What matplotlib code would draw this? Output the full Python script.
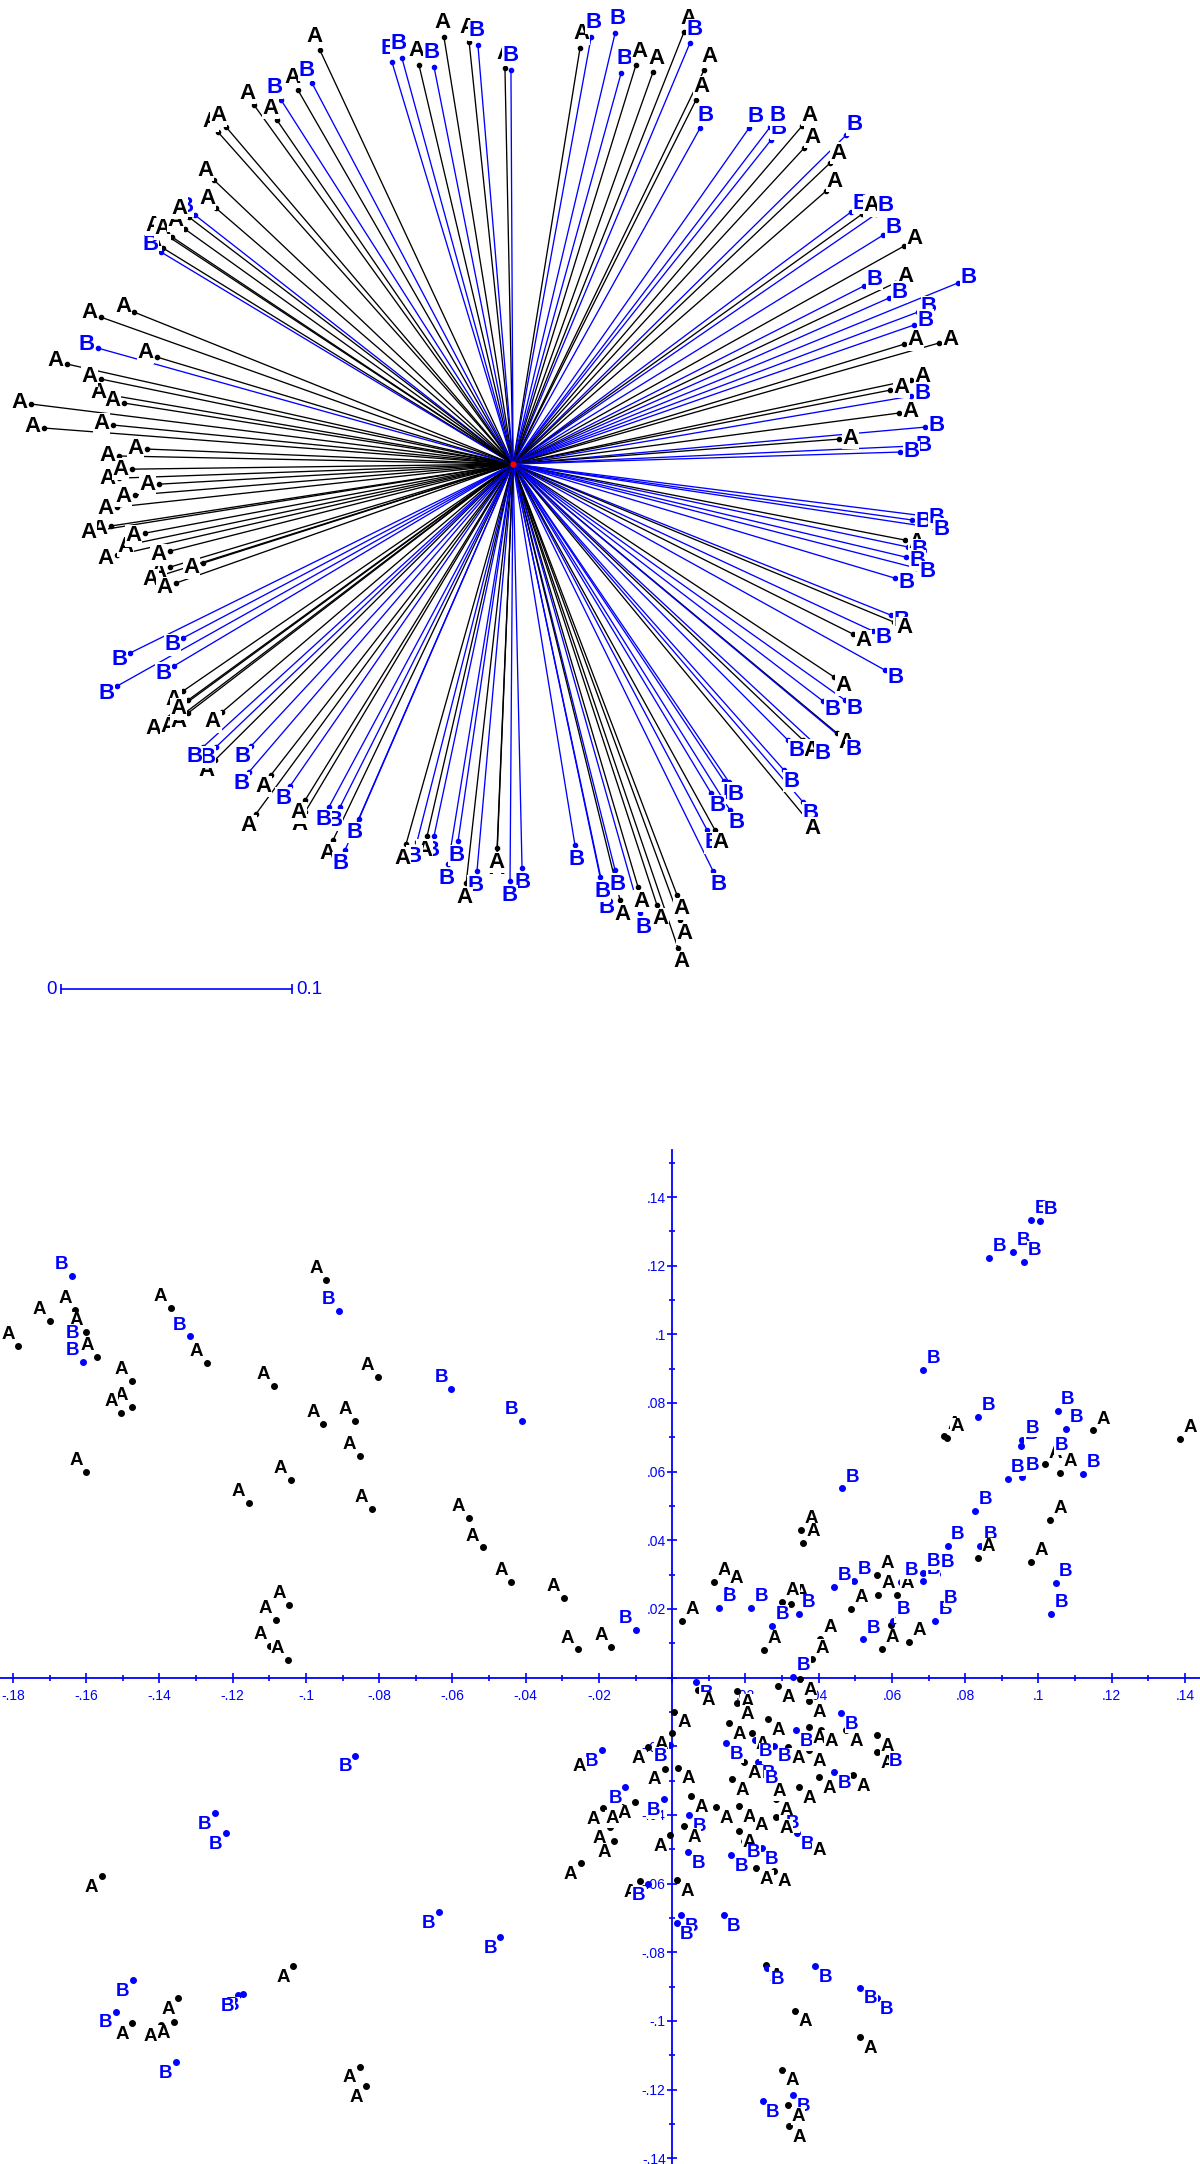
import numpy as np
import matplotlib
matplotlib.use("Agg")
import matplotlib.pyplot as plt
from matplotlib.ticker import MultipleLocator, FuncFormatter

# ---- tree: leaf positions (tree units, centre = 0,0) and group labels ----
tree_x = [-0.0836, -0.0524, -0.0481, -0.0407, -0.0342, -0.0299, -0.0190, -0.0152, -0.0035, -0.0009,
          0.0290, 0.0338, 0.0442, 0.0740, 0.0766, 0.0468, 0.0532, 0.0606, 0.0827, 0.0792,
          0.0810, 0.1022, 0.1117, 0.1113, 0.1251, 0.1260, 0.1442, 0.1372, 0.1355, 0.1463,
          0.1511, 0.1571, 0.1602, 0.1693, 0.1519, 0.1654, 0.1628, 0.1926, 0.1753, 0.1736,
          0.1693, 0.1844, 0.1723, 0.1632, 0.1723, 0.1671, 0.1784, 0.1411, 0.1727, 0.1675,
          0.1727, 0.1784, 0.1805, 0.1697, 0.1710, 0.1701, 0.1745, 0.1654, 0.1636, 0.1649,
          0.1558, 0.1472, 0.1610, 0.1390, 0.1437, 0.1342, 0.1403, 0.1433, 0.1255, 0.1190,
          0.1303, 0.1173, 0.1255, 0.1264, 0.0913, 0.0935, 0.0857, 0.0939, 0.0840, 0.0874,
          0.0866, 0.0442, 0.0394, 0.0463, 0.0541, 0.0550, 0.0623, 0.0710, 0.0723, 0.0714,
          0.0377, 0.0268, 0.0039, -0.0013, -0.0069, -0.0069, -0.0156, -0.0203, -0.0281, -0.0238,
          -0.0342, -0.0372, -0.0416, -0.0463, -0.0667, -0.0779, -0.0727, -0.0749, -0.0797, -0.0900,
          -0.0900, -0.1113, -0.0965, -0.1048, -0.1143, -0.1134, -0.1290, -0.1286, -0.1342, -0.1260,
          -0.1515, -0.1450, -0.1407, -0.1429, -0.1407, -0.1468, -0.1714, -0.1429, -0.1658, -0.1342,
          -0.1485, -0.1519, -0.1459, -0.1485, -0.1714, -0.1628, -0.1593, -0.1740, -0.1788, -0.1714,
          -0.1532, -0.1636, -0.1706, -0.1649, -0.1706, -0.1584, -0.1732, -0.2030, -0.2087, -0.1684,
          -0.1745, -0.1784, -0.1931, -0.1541, -0.1797, -0.1641, -0.1784, -0.1515, -0.1524, -0.1515,
          -0.1476, -0.1420, -0.1377, -0.1403, -0.1286, -0.1294, -0.1277, -0.1242, -0.1121, -0.1022,
          -0.1004, -0.0931, -0.0870]
tree_y = [0.1792, 0.1740, 0.1758, 0.1727, 0.1719, 0.1848, 0.1827, 0.1814, 0.1714, 0.1706,
          0.1801, 0.1848, 0.1866, 0.1870, 0.1823, 0.1693, 0.1727, 0.1697, 0.1706, 0.1576,
          0.1455, 0.1455, 0.1403, 0.1459, 0.1463, 0.1368, 0.1424, 0.1303, 0.1182, 0.1091,
          0.1082, 0.1082, 0.0991, 0.0944, 0.0771, 0.0784, 0.0719, 0.0784, 0.0658, 0.0602,
          0.0519, 0.0524, 0.0364, 0.0320, 0.0294, 0.0221, 0.0160, 0.0108, 0.0078, 0.0052,
          -0.0242, -0.0225, -0.0273, -0.0329, -0.0359, -0.0403, -0.0450, -0.0494, -0.0654, -0.0684,
          -0.0723, -0.0736, -0.0892, -0.0922, -0.1022, -0.1026, -0.1165, -0.1195, -0.1195, -0.1195,
          -0.1208, -0.1325, -0.1463, -0.1528, -0.1372, -0.1377, -0.1424, -0.1498, -0.1584, -0.1584,
          -0.1762, -0.1758, -0.1857, -0.1887, -0.1831, -0.1944, -0.1909, -0.1866, -0.1974, -0.2095,
          -0.1788, -0.1649, -0.1749, -0.1805, -0.1688, -0.1662, -0.1762, -0.1814, -0.1732, -0.1632,
          -0.1610, -0.1610, -0.1636, -0.1645, -0.1537, -0.1628, -0.1671, -0.1485, -0.1485, -0.1506,
          -0.1455, -0.1515, -0.1394, -0.1346, -0.1333, -0.1221, -0.1281, -0.1225, -0.1225, -0.1074,
          -0.1108, -0.1100, -0.1078, -0.0983, -0.1022, -0.0874, -0.0961, -0.0753, -0.0818, -0.0429,
          -0.0446, -0.0481, -0.0515, -0.0377, -0.0394, -0.0342, -0.0299, -0.0268, -0.0286, -0.0186,
          -0.0087, -0.0134, -0.0061, -0.0022, 0.0035, 0.0065, 0.0169, 0.0156, 0.0260, 0.0264,
          0.0299, 0.0368, 0.0433, 0.0463, 0.0502, 0.0658, 0.0636, 0.0935, 0.0918, 0.1000,
          0.0983, 0.1017, 0.1078, 0.1069, 0.1108, 0.1229, 0.1437, 0.1459, 0.1554, 0.1489,
          0.1576, 0.1619, 0.1649]
tree_lab = list("ABBABAABAB" "ABBABBAAAA" "BBBBAABAAB" "ABBABABBBB" "AAAABABABB"
                "BBBABBBBBA" "BABABBABAB" "BBBABBBBBA" "BBBAABAAAA" "BBBBAABABB"
                "BABABABBBA" "AABABBABBA" "AAAAABBBBA" "AAAAAAAAAA" "AAAAAAAAAA"
                "AAAABAAABA" "AABAAAAAAA" "BAB")

# ---- scatter (PCoA): x, y, group ----
pts_x = [-0.164, -0.170, -0.163, -0.160, -0.161, -0.157, -0.161, -0.1785, -0.1475, -0.1476,
         -0.1504, -0.1369, -0.1316, -0.1271, -0.160, -0.0945, -0.0910, -0.1088, -0.0804, -0.0953,
         -0.0866, -0.0853, -0.1042, -0.1156, -0.0820, -0.0603, -0.0411, -0.0556, -0.0517, -0.0439,
         -0.0296, -0.0258, -0.1046, -0.1083, -0.1098, -0.1049, -0.0167, -0.0100,
         0.0026, 0.0114, 0.0148, 0.0128, 0.0216, 0.0250, 0.0272, 0.0324, 0.0300, 0.0345,
         0.0351, 0.0358, 0.0443, 0.0463, 0.0497, 0.0487, 0.0403, 0.0382, 0.0521, 0.0558,
         0.0563, 0.0574, 0.0598, 0.0603, 0.0613, 0.0624, 0.0646, 0.0684, 0.0686, 0.0723,
         0.0718, 0.0733, 0.0752, 0.0684, 0.0741, 0.0749, 0.0836, 0.0827, 0.0841, 0.0836,
         0.0979, 0.1031, 0.1047, 0.1034, 0.0916, 0.0956, 0.0953, 0.0956, 0.1018, 0.1034,
         0.1058, 0.1052, 0.1076, 0.1122, 0.1149, 0.1387, 0.0865, 0.0930, 0.0960, 0.0979,
         0.1004,
         0.0065, 0.0070, 0.0176, 0.0176, 0.0156, 0.0219, 0.0289, 0.0331, 0.0348, 0.0373,
         0.0261, 0.0339, 0.0373, 0.0405, 0.0462, 0.0474, 0.0558, 0.0560, 0.0582, 0.0004,
         -0.0001, -0.0065, -0.0005, -0.0192, -0.0225, 0.0148, 0.0227, 0.0279, 0.0315, 0.0373,
         0.0234, 0.0242, 0.0195, -0.0021, 0.0016, 0.0162, 0.0263, 0.0345, 0.0401, 0.0441,
         0.0493, 0.0051, 0.0119, 0.0183, 0.0216, 0.0282, 0.0300, 0.0282, 0.0341, 0.0373,
         0.0046, 0.0031, -0.0005, 0.0043, 0.0183, 0.0195, 0.0244, 0.0160, 0.0229, 0.0279,
         0.0013, -0.0087, -0.0065, 0.0025, 0.0012, 0.0140, 0.0255, 0.0260, 0.0391, 0.0514,
         0.0558, 0.0336, 0.0514, 0.0299, 0.0329, 0.0247, 0.0315, 0.0319,
         -0.0865, -0.1248, -0.1219, -0.1557, -0.0637, -0.0469, -0.1035, -0.1472, -0.1172, -0.1185,
         -0.1349, -0.1519, -0.1474, -0.1361, -0.1396, -0.1355, -0.0853, -0.0835, -0.0128, -0.0022,
         -0.0103, -0.0188, -0.0137, -0.0171, -0.0158, -0.0249]
pts_y = [0.117, 0.104, 0.107, 0.1006, 0.097, 0.0933, 0.092, 0.0965, 0.0863, 0.0788,
         0.0770, 0.1076, 0.0994, 0.0916, 0.0599, 0.1158, 0.1069, 0.0849, 0.0875, 0.0738,
         0.0747, 0.0645, 0.0576, 0.0509, 0.0491, 0.0840, 0.0748, 0.0465, 0.0379, 0.0279,
         0.0233, 0.0082, 0.0212, 0.0168, 0.0093, 0.0052, 0.0090, 0.0139,
         0.0165, 0.0279, 0.0255, 0.0203, 0.0204, 0.0080, 0.0151, 0.0214, 0.0221, 0.0185,
         0.0431, 0.0392, 0.0265, 0.0551, 0.0281, 0.0199, 0.0112, 0.0053, 0.0111, 0.0299,
         0.0242, 0.0083, 0.0153, 0.0166, 0.0240, 0.0279, 0.0105, 0.0282, 0.0306, 0.0301,
         0.0165, 0.0197, 0.0383, 0.0897, 0.0703, 0.0698, 0.0759, 0.0485, 0.0384, 0.0349,
         0.0337, 0.0458, 0.0277, 0.0185, 0.0579, 0.0584, 0.0674, 0.0693, 0.0621, 0.0642,
         0.0596, 0.0776, 0.0725, 0.0592, 0.0720, 0.0696, 0.1222, 0.1241, 0.1212, 0.1333,
         0.1330,
         -0.0014, -0.0035, -0.0040, -0.0073, -0.0132, -0.0162, -0.0025, 0.0003, -0.0004, -0.0069,
         -0.0122, -0.0154, -0.0144, -0.0154, -0.0103, -0.0152, -0.0168, -0.0217, -0.0211, -0.0099,
         -0.0162, -0.0203, -0.0196, -0.0210, -0.0225, -0.0191, -0.0183, -0.0198, -0.0203, -0.0212,
         -0.0246, -0.0261, -0.0246, -0.0265, -0.0262, -0.0296, -0.0300, -0.0320, -0.0291, -0.0274,
         -0.0285, -0.0346, -0.0377, -0.0373, -0.0398, -0.0354, -0.0393, -0.0405, -0.0452, -0.0471,
         -0.0401, -0.0432, -0.0458, -0.0508, -0.0447, -0.0476, -0.0496, -0.0518, -0.0554, -0.0562,
         -0.0589, -0.0593, -0.0601, -0.0693, -0.0714, -0.0691, -0.0837, -0.0847, -0.0840, -0.0903,
         -0.0933, -0.0970, -0.1046, -0.1142, -0.1217, -0.1233, -0.1245, -0.1307,
         -0.0227, -0.0395, -0.0453, -0.0578, -0.0684, -0.0756, -0.0840, -0.0881, -0.0923, -0.0925,
         -0.0934, -0.0973, -0.1007, -0.1004, -0.1013, -0.1119, -0.1133, -0.1189, -0.0320, -0.0353,
         -0.0363, -0.0380, -0.0378, -0.0435, -0.0475, -0.0540]
pts_lab = list("BAAABABAAA" "AABAAABAAA" "AAAAABBAAA" "AAAAAAAB"
               "AAABBABAAB" "AABBBAAABA" "AAABABABBB" "BBBBAABBBA" "AABBBBBBAB"
               "ABBBAABBBB" "B"
               "BAAAAAABAA" "ABAABAAABA" "AABBABBBAA" "BBAAAAAAAB" "AAAAAABABA"
               "BAABABBBAA" "AABBBBABBB" "BAAABBAA"
               "BBBABBABBB" "ABAAABAABB" "AAAAAA")

colors = {"A": "black", "B": "#0000ff"}
lab_font = "Liberation Sans"

fig = plt.figure(figsize=(12, 21.64), dpi=100)

# ================= top: radial tree =================
ax1 = fig.add_axes([0, 1 - 1100 / 2164, 1, 1100 / 2164])
ax1.set_xlim(-0.2221, 0.2974)
ax1.set_ylim(-0.2753, 0.2009)
ax1.axis("off")

for x, y, lab in zip(tree_x, tree_y, tree_lab):
    c = colors[lab]
    ax1.plot([0, x], [0, y], color=c, lw=0.95, zorder=2)
    ax1.plot(x, y, "o", color=c, ms=3, zorder=3)
for x, y, lab in zip(tree_x, tree_y, tree_lab):
    r = np.hypot(x, y)
    ux, uy = x / r, y / r
    ax1.annotate(lab, (x, y), xytext=(ux * 8.5, uy * 10.5), textcoords="offset points",
                 ha="center", va="center", fontsize=16, fontweight="bold",
                 family=lab_font, color=colors[lab], zorder=4,
                 bbox=dict(boxstyle="square,pad=0.02", fc="white", ec="none"))
ax1.plot(0, 0, "o", color="red", ms=3.5, zorder=5)

# scale bar
bar_x0, bar_y = -0.1957, -0.2273
ax1.plot([bar_x0, bar_x0 + 0.1], [bar_y, bar_y], color="#0000ff", lw=1.2)
ax1.plot([bar_x0, bar_x0 + 0.1], [bar_y, bar_y], "|", color="#0000ff", ms=7, mew=1.2)
ax1.text(bar_x0 - 0.002, bar_y, "0", ha="right", va="center", color="#0000ff",
         fontsize=13.5, family=lab_font)
ax1.text(bar_x0 + 0.1 + 0.002, bar_y, "0.1", ha="left", va="center", color="#0000ff",
         fontsize=13.5, family=lab_font)

# ================= bottom: ordination scatter =================
ax2 = fig.add_axes([0, 0, 1, 1014 / 2164])
ax2.set_xlim(-0.18355, 0.1441)
ax2.set_ylim(-0.1417, 0.1537)

for s in ["top", "right"]:
    ax2.spines[s].set_visible(False)
for s in ["left", "bottom"]:
    ax2.spines[s].set_position(("data", 0))
    ax2.spines[s].set_color("#0000ff")
    ax2.spines[s].set_linewidth(1.3)


def fmt(v, pos):
    if abs(v) < 1e-9:
        return ""
    s = f"{v:.2f}".rstrip("0")
    return s.replace("0.", ".")


for axis in [ax2.xaxis, ax2.yaxis]:
    axis.set_minor_locator(MultipleLocator(0.01))
    axis.set_major_formatter(FuncFormatter(fmt))
ax2.set_xticks(np.arange(-0.18, 0.1401, 0.02))
ax2.set_yticks(np.arange(-0.14, 0.1401, 0.02))
ax2.tick_params(which="major", direction="inout", length=7.5, width=1.2, color="#0000ff",
                labelcolor="#0000ff", labelsize=10)
ax2.tick_params(which="minor", direction="inout", length=5, width=1.2, color="#0000ff")
ax2.tick_params(axis="x", pad=4.5)
ax2.tick_params(axis="y", pad=1)
for t in ax2.get_xticklabels() + ax2.get_yticklabels():
    t.set_family(lab_font)

px = np.array(pts_x)
py = np.array(pts_y)
for lab in ["A", "B"]:
    m = np.array([l == lab for l in pts_lab])
    ax2.plot(px[m], py[m], "o", color=colors[lab], ms=4, zorder=3, ls="none")
for x, y, lab in zip(pts_x, pts_y, pts_lab):
    sx = 1 if x >= 0 else -1
    sy = 1 if y >= 0 else -1
    ax2.annotate(lab, (x, y), xytext=(sx * 7.4, sy * 8.2), textcoords="offset points",
                 ha="center", va="center", fontsize=13.5, fontweight="bold",
                 family=lab_font, color=colors[lab], zorder=4,
                 bbox=dict(boxstyle="square,pad=0.02", fc="white", ec="none"))

fig.savefig("out.png", dpi=100)
